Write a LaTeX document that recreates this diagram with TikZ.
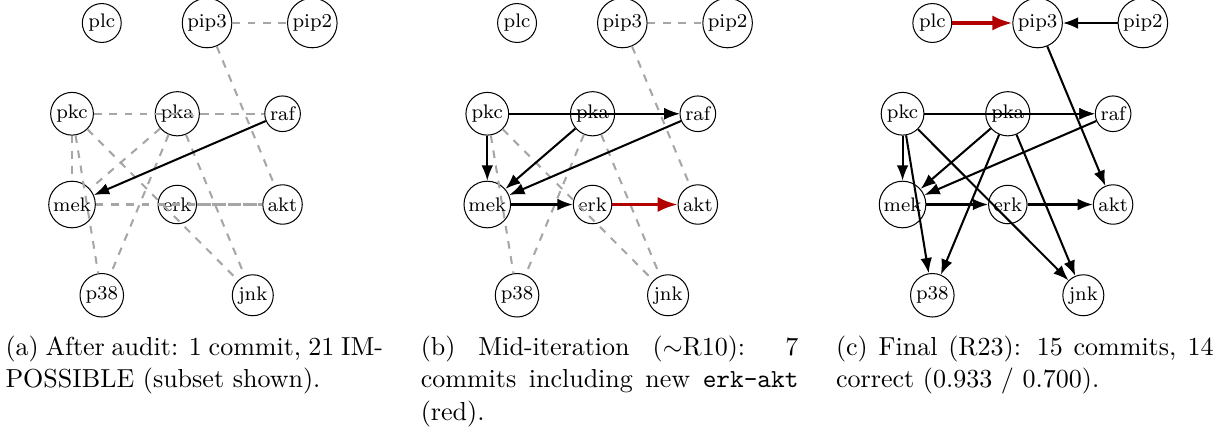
\documentclass[tikz,border=0pt]{standalone}
\usepackage{tikz}
\usetikzlibrary{arrows.meta}

\begin{document}
\begin{tikzpicture}[
    gene/.style={circle, draw, thin, inner sep=1pt, font=\fontsize{7.7}{9.2}\selectfont},
    commit/.style={-{Latex[length=6pt,width=4.6pt]}, thick},
    newcommit/.style={-{Latex[length=7.8pt,width=5.9pt]}, very thick, red!70!black},
    impossible/.style={dashed, thick, gray!70},
    caption/.style={anchor=north west, inner sep=0pt, text width=148pt, align=justify,
                    font=\fontsize{10.2}{12.8}\selectfont}
]
\useasboundingbox (-0.992,-3.078) rectangle (15.854,2.817);

% Same eleven genes in every panel
\foreach \p/\dx in {a/0, b/5.72, c/11.44} {
  \foreach \n/\x/\y in {plc/0.41/2.5, pip3/1.86/2.5, pip2/3.31/2.5,
                        pkc/0/1.25, pka/1.45/1.25, raf/2.9/1.25,
                        mek/0/0, erk/1.45/0, akt/2.9/0,
                        p38/0.41/-1.25, jnk/2.49/-1.25} {
    \node[gene] (\p-\n) at (\x+\dx,\y) {\n};
  }
}

% (a) after audit
\draw[impossible] (a-pip3) -- (a-pip2);
\draw[impossible] (a-pip3) -- (a-akt);
\draw[impossible] (a-pkc) -- (a-raf);
\draw[impossible] (a-pka) -- (a-raf);
\draw[impossible] (a-pkc) -- (a-mek);
\draw[impossible] (a-pkc) -- (a-p38);
\draw[impossible] (a-pkc) -- (a-jnk);
\draw[impossible] (a-pka) -- (a-mek);
\draw[impossible] (a-pka) -- (a-p38);
\draw[impossible] (a-pka) -- (a-jnk);
\draw[impossible] (a-mek) -- (a-akt);
\draw[impossible] (a-erk) -- (a-akt);
\draw[commit] (a-raf) -- (a-mek);

% (b) mid-iteration
\draw[impossible] (b-pip3) -- (b-pip2);
\draw[impossible] (b-pip3) -- (b-akt);
\draw[impossible] (b-pkc) -- (b-p38);
\draw[impossible] (b-pkc) -- (b-jnk);
\draw[impossible] (b-pka) -- (b-p38);
\draw[impossible] (b-pka) -- (b-jnk);
\draw[commit] (b-pkc) -- (b-raf);
\draw[commit] (b-pka) -- (b-raf);
\draw[commit] (b-pkc) -- (b-mek);
\draw[commit] (b-pka) -- (b-mek);
\draw[commit] (b-raf) -- (b-mek);
\draw[commit] (b-mek) -- (b-erk);
\draw[newcommit] (b-erk) -- (b-akt);

% (c) final
\draw[newcommit] (c-plc) -- (c-pip3);
\draw[commit] (c-pip2) -- (c-pip3);
\draw[commit] (c-pip3) -- (c-akt);
\draw[commit] (c-pkc) -- (c-raf);
\draw[commit] (c-pka) -- (c-raf);
\draw[commit] (c-pkc) -- (c-mek);
\draw[commit] (c-pkc) -- (c-p38);
\draw[commit] (c-pkc) -- (c-jnk);
\draw[commit] (c-pka) -- (c-mek);
\draw[commit] (c-pka) -- (c-p38);
\draw[commit] (c-pka) -- (c-jnk);
\draw[commit] (c-raf) -- (c-mek);
\draw[commit] (c-mek) -- (c-erk);
\draw[commit] (c-erk) -- (c-akt);

% Captions
\node[caption] (capa) at (-0.923,-1.80) {(a) After audit: 1 commit, 21 IM-\linebreak POSSIBLE (subset shown).};
\node[caption] (capb) at (4.797,-1.80) {(b) Mid-iteration ($\sim$R10): 7\linebreak commits including new \texttt{erk-akt}\linebreak (red).};
\node[caption] (capc) at (10.517,-1.80) {(c) Final (R23): 15 commits, 14\linebreak correct (0.933 / 0.700).};

\end{tikzpicture}
\end{document}
